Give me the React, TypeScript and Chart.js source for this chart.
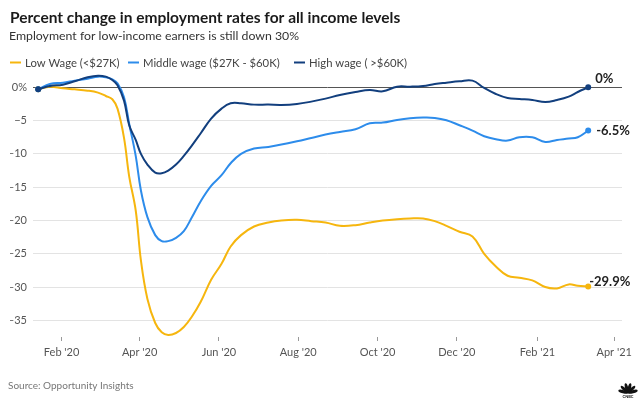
import React, { useEffect, useRef } from "react";
import { Chart, registerables } from "chart.js";

Chart.register(...registerables);

const title = "Percent change in employment rates for all income levels";
const subtitle = "Employment for low-income earners is still down 30%";
const source = "Source: Opportunity Insights";
const seriesNames = ["Low Wage (<$27K)", "Middle wage ($27K - $60K)", "High wage ( >$60K)"];
const seriesColors = ["#F6B60E", "#2D8CEB", "#123F7E"];
const endLabels = ["-29.9%", "-6.5%", "0%"];

// days since 2020-01-01
const days = [13, 22, 32, 41, 51, 59, 65, 70, 74, 79, 83, 88, 92, 97, 103, 108, 113, 119, 125, 131, 138, 146, 154, 161, 169, 179, 190, 200, 212, 223, 234, 245, 257, 268, 278, 289, 299, 309, 318, 327, 337, 347, 356, 365, 374, 383, 393, 403, 412, 421, 428, 436];

const lowWage = [-0.3, 0.1, -0.15, -0.3, -0.5, -0.8, -1.3, -1.8, -3.2, -7.6, -13.4, -18.5, -26.0, -31.8, -35.4, -36.8, -37.2, -36.9, -36.0, -34.5, -32.2, -28.9, -26.5, -23.9, -22.2, -20.9, -20.3, -20.0, -19.9, -20.1, -20.3, -20.8, -20.7, -20.3, -20.0, -19.8, -19.7, -19.7, -20.1, -20.8, -21.7, -22.4, -25.0, -26.9, -28.3, -28.6, -29.0, -30.0, -30.2, -29.6, -29.8, -29.9];

const middleWage = [-0.3, 0.5, 0.7, 1.0, 1.3, 1.6, 1.5, 1.2, 0.6, -1.5, -5.5, -10.3, -15.5, -19.5, -22.2, -23.1, -23.1, -22.6, -21.6, -19.6, -17.1, -14.8, -13.2, -11.4, -10.0, -9.2, -8.95, -8.6, -8.1, -7.6, -7.1, -6.7, -6.3, -5.4, -5.3, -4.9, -4.65, -4.55, -4.6, -4.95, -5.7, -6.5, -7.35, -7.8, -8.0, -7.5, -7.5, -8.2, -7.9, -7.7, -7.5, -6.5];

const highWage = [-0.3, 0.2, 0.4, 0.9, 1.5, 1.75, 1.6, 1.1, 0.3, -2.0, -5.7, -7.9, -10.0, -11.6, -12.8, -12.9, -12.5, -11.6, -10.3, -8.8, -6.9, -4.7, -3.2, -2.4, -2.4, -2.6, -2.6, -2.65, -2.5, -2.15, -1.7, -1.15, -0.7, -0.4, -0.6, 0.1, 0.1, 0.2, 0.5, 0.7, 0.9, 1.0, -0.1, -1.0, -1.6, -1.75, -1.9, -2.2, -1.9, -1.4, -0.7, 0.0];

const tickDays = [31, 91, 152, 213, 274, 335, 397, 456];
const tickLabels = ["Feb '20", "Apr '20", "Jun '20", "Aug '20", "Oct '20", "Dec '20", "Feb '21", "Apr '21"];
const yTicks = [0, -5, -10, -15, -20, -25, -30, -35];

const FONT = "Lato, 'Open Sans', sans-serif";

const overlayPlugin = {
  id: "overlay",
  afterDatasetsDraw(chart: any) {
    const ctx = chart.ctx;
    ctx.save();
    ctx.textBaseline = "middle";
    ctx.textAlign = "left";
    ctx.font = `bold 13px ${FONT}`;
    ctx.fillStyle = "#222";
    const offsets = [
      [1, -5],
      [8, 0],
      [7, -9],
    ];
    chart.data.datasets.forEach((_: any, i: number) => {
      const meta = chart.getDatasetMeta(i);
      const pt = meta.data[meta.data.length - 1];
      if (!pt) return;
      ctx.fillText(endLabels[i], pt.x + offsets[i][0], pt.y + offsets[i][1]);
    });
    ctx.restore();
  },
  afterDraw(chart: any) {
    const ctx = chart.ctx;
    ctx.save();
    ctx.textAlign = "left";
    ctx.textBaseline = "alphabetic";
    ctx.fillStyle = "#1a1a1a";
    ctx.font = `bold 15.5px ${FONT}`;
    ctx.fillText(title, 10, 23);
    ctx.fillStyle = "#333";
    ctx.font = `12.3px ${FONT}`;
    ctx.fillText(subtitle, 9, 40);

    // legend
    ctx.font = `11.3px ${FONT}`;
    const legendX = [10, 128, 294];
    seriesNames.forEach((name, i) => {
      const x = legendX[i];
      ctx.strokeStyle = seriesColors[i];
      ctx.lineWidth = 2;
      ctx.beginPath();
      ctx.moveTo(x, 62.5);
      ctx.lineTo(x + 11, 62.5);
      ctx.stroke();
      ctx.fillStyle = "#444";
      ctx.fillText(name, x + 15, 66.5);
    });

    // source
    ctx.fillStyle = "#777";
    ctx.font = `10px ${FONT}`;
    ctx.fillText(source, 8, 389);

    // small peacock-style mark
    const cx = 628, cy = 393;
    ctx.fillStyle = "#111";
    for (let k = 0; k < 6; k++) {
      const a = Math.PI + (k + 0.5) * (Math.PI / 6);
      ctx.save();
      ctx.translate(cx + Math.cos(a) * 5, cy + Math.sin(a) * 5);
      ctx.rotate(a + Math.PI / 2);
      ctx.beginPath();
      ctx.ellipse(0, 0, 1.6, 5, 0, 0, Math.PI * 2);
      ctx.fill();
      ctx.restore();
    }
    ctx.font = `bold 4px ${FONT}`;
    ctx.textAlign = "center";
    ctx.fillText("CNBC", cx, cy + 5);
    ctx.restore();
  },
};

export default function App() {
  const canvasRef = useRef<HTMLCanvasElement | null>(null);

  useEffect(() => {
    const canvas = canvasRef.current;
    if (!canvas) return;
    const series = [lowWage, middleWage, highWage];
    const chart = new Chart(canvas, {
      type: "line",
      data: {
        datasets: series.map((vals, i) => ({
          label: seriesNames[i],
          data: days.map((d, j) => ({ x: d, y: vals[j] })),
          borderColor: seriesColors[i],
          backgroundColor: seriesColors[i],
          borderWidth: 2,
          tension: 0.4,
          fill: false,
          order: 2 - i,
          clip: false as any,
          pointRadius: (c: any) => (c.dataIndex === 0 || c.dataIndex === days.length - 1 ? 3 : 0),
          pointBorderWidth: 0,
          pointHoverRadius: 0,
        })),
      },
      options: {
        animation: false,
        responsive: false,
        events: [],
        layout: { padding: { left: 10, right: 18, top: 71, bottom: 0 } },
        plugins: {
          legend: { display: false },
          tooltip: { enabled: false },
          title: { display: false },
        },
        scales: {
          x: {
            type: "linear",
            min: 9,
            max: 462,
            afterBuildTicks: (s: any) => {
              s.ticks = tickDays.map((v) => ({ value: v }));
            },
            afterFit: (s: any) => {
              s.height = 69;
            },
            ticks: {
              autoSkip: false,
              maxRotation: 0,
              padding: 5,
              color: "#555",
              font: { family: FONT, size: 11 },
              callback: (_v: any, idx: number) => tickLabels[idx],
            },
            grid: {
              drawOnChartArea: false,
              drawTicks: true,
              tickLength: 4,
              color: "#999",
            },
            border: { display: false },
          },
          y: {
            type: "linear",
            min: -37.5,
            max: 2.45,
            afterBuildTicks: (s: any) => {
              s.ticks = yTicks.map((v) => ({ value: v }));
            },
            afterFit: (s: any) => {
              s.width = 23;
            },
            ticks: {
              padding: 6,
              color: "#555",
              font: { family: FONT, size: 11 },
              callback: (v: any) => (v === 0 ? "0%" : "\u2212" + Math.abs(v)),
            },
            grid: {
              drawTicks: false,
              lineWidth: 1,
              color: (c: any) => (c.tick && c.tick.value === 0 ? "#555" : "#e3e3e3"),
            },
            border: { display: false },
          },
        },
      } as any,
      plugins: [overlayPlugin],
    });
    return () => chart.destroy();
  }, []);

  return (
    <div style={{ position: "absolute", left: 0, top: 0, width: 640, height: 406, background: "#fff" }}>
      <canvas ref={canvasRef} width={640} height={406} style={{ display: "block" }} />
    </div>
  );
}
